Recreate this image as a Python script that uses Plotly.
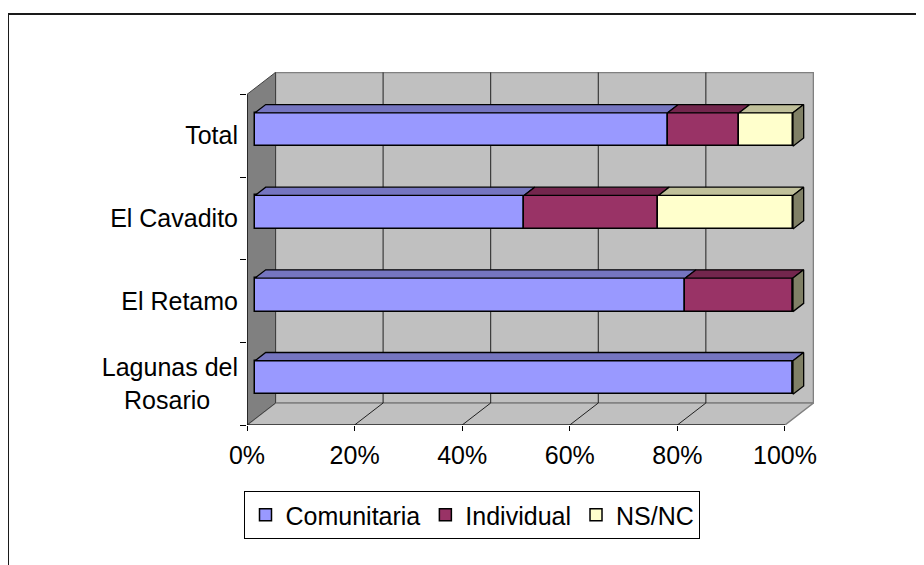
import plotly.graph_objects as go

# ---- data ----
categories = ["Lagunas del Rosario", "El Retamo", "El Cavadito", "Total"]
tick_labels = ["Lagunas del<br>Rosario\u00a0\u00a0\u00a0\u00a0", "El Retamo", "El Cavadito", "Total"]
series_names = ["Comunitaria", "Individual", "NS/NC"]
comunitaria = [100, 80, 50, 76.7]
individual = [0, 20, 25, 13.3]
nsnc = [0, 0, 25, 10.0]
x_ticks = [0, 20, 40, 60, 80, 100]
x_tick_labels = ["0%", "20%", "40%", "60%", "80%", "100%"]

# ---- style ----
front_colors = ["#9999FF", "#993366", "#FFFFCC"]
top_colors = ["#7575C0", "#73264D", "#C0C09A"]
side_color = "#808066"
FONT = "Liberation Sans, Arial, sans-serif"

# pseudo-3D geometry (axis units)
DX, DY = 5.3, 0.266          # wall depth
FX, FY = 1.49, 0.0745        # bar front-face offset
TDX, TDY = 1.99, 0.100       # bar depth
HH = 0.2027                  # half bar height
XMAX = 100 + DX + 0.1
YMIN, YMAX = -0.5, 3.5 + DY + 0.005

series = [comunitaria, individual, nsnc]
ypos = list(range(len(categories)))

fig = go.Figure()

# front faces: stacked horizontal bars
cum = [0.0] * len(categories)
for name, vals, fc in zip(series_names, series, front_colors):
    bases = [FX + c for c in cum]
    fig.add_trace(go.Bar(
        y=[y + FY for y in ypos], x=vals, base=bases, orientation="h",
        width=2 * HH, name=name,
        marker=dict(color=fc, line=dict(color="black", width=1.5)),
        hoverinfo="skip",
    ))
    cum = [c + v for c, v in zip(cum, vals)]

# top faces
cum = [0.0] * len(categories)
for vals, tc in zip(series, top_colors):
    for i, v in enumerate(vals):
        if v > 0:
            b = FX + cum[i]
            yt = ypos[i] + FY + HH
            fig.add_trace(go.Scatter(
                x=[b, b + v, b + v + TDX, b + TDX, b],
                y=[yt, yt, yt + TDY, yt + TDY, yt],
                mode="lines", fill="toself", fillcolor=tc,
                line=dict(color="black", width=1.3),
                showlegend=False, hoverinfo="skip"))
    cum = [c + v for c, v in zip(cum, vals)]

# end side faces
for i in range(len(categories)):
    e = FX + cum[i]
    yb = ypos[i] + FY - HH
    yt = ypos[i] + FY + HH
    fig.add_trace(go.Scatter(
        x=[e, e, e + TDX, e + TDX, e],
        y=[yb, yt, yt + TDY, yb + TDY, yb],
        mode="lines", fill="toself", fillcolor=side_color,
        line=dict(color="black", width=1.3),
        showlegend=False, hoverinfo="skip"))

shapes = []
# back wall
shapes.append(dict(type="rect", xref="x", yref="y", x0=DX, x1=100 + DX,
                   y0=-0.5 + DY, y1=3.5 + DY, fillcolor="#C0C0C0",
                   line=dict(color="#808080", width=1.5), layer="below"))
# floor
shapes.append(dict(type="path", xref="x", yref="y",
                   path=f"M0,-0.5 L100,-0.5 L{100+DX},{-0.5+DY} L{DX},{-0.5+DY} Z",
                   fillcolor="#C0C0C0", line=dict(color="#808080", width=1.5), layer="below"))
# left wall
shapes.append(dict(type="path", xref="x", yref="y",
                   path=f"M0,-0.5 L0,3.5 L{DX},{3.5+DY} L{DX},{-0.5+DY} Z",
                   fillcolor="#808080", line=dict(color="#404040", width=1), layer="below"))
# gridlines on back wall and floor
for v in x_ticks[1:-1]:
    shapes.append(dict(type="line", xref="x", yref="y", x0=v + DX, x1=v + DX,
                       y0=-0.5 + DY, y1=3.5 + DY, line=dict(color="#202020", width=1), layer="below"))
    shapes.append(dict(type="line", xref="x", yref="y", x0=v, x1=v + DX,
                       y0=-0.5, y1=-0.5 + DY, line=dict(color="#202020", width=1), layer="below"))
# axis lines (front plane)
shapes.append(dict(type="line", xref="x", yref="y", x0=0, x1=100, y0=-0.5, y1=-0.5,
                   line=dict(color="black", width=1.2), layer="below"))
shapes.append(dict(type="line", xref="x", yref="y", x0=0, x1=0, y0=-0.5, y1=3.5,
                   line=dict(color="black", width=1.2), layer="below"))
# outer chart border
shapes.append(dict(type="rect", xref="paper", yref="paper", x0=-0.4215, x1=1.3,
                   y0=-0.7, y1=1.1643, line=dict(color="#1a1a1a", width=2),
                   fillcolor="rgba(0,0,0,0)", layer="below"))

fig.update_layout(
    width=924, height=565,
    margin=dict(l=239, r=118, t=64, b=148),
    paper_bgcolor="white", plot_bgcolor="white",
    barmode="overlay", bargap=0,
    font=dict(family=FONT, size=25, color="black"),
    shapes=shapes,
    showlegend=True,
    legend=dict(orientation="h", x=0.3977, xanchor="center", y=-0.187, yanchor="top",
                bordercolor="black", borderwidth=1, bgcolor="white",
                font=dict(family=FONT, size=25, color="black"),
                traceorder="normal"),
    xaxis=dict(range=[0, XMAX], tickvals=x_ticks, ticktext=x_tick_labels,
               ticks="outside", ticklen=5, tickcolor="black", tickwidth=1,
               showgrid=False, zeroline=False, showline=False,
               ticklabelstandoff=3, fixedrange=True),
    yaxis=dict(range=[YMIN, YMAX], tickvals=ypos, ticktext=tick_labels,
               ticks="", showgrid=False, zeroline=False, showline=False,
               ticklabelstandoff=8, fixedrange=True,
               minor=dict(tickmode="array", tickvals=[-0.5, 0.5, 1.5, 2.5, 3.5],
                          ticks="outside", ticklen=6, tickcolor="black", tickwidth=1,
                          showgrid=False)),
)

fig.write_html("out.html")
